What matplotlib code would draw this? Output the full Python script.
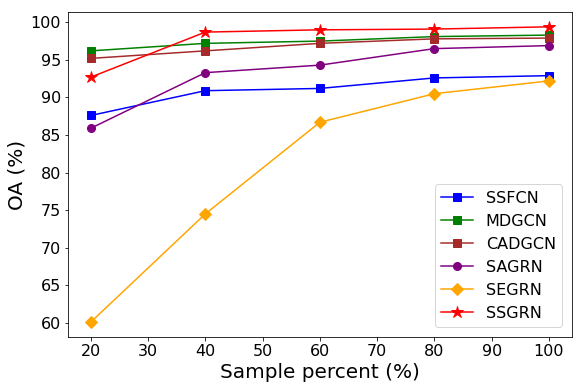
import matplotlib
matplotlib.use("Agg")
import matplotlib.pyplot as plt

x = [20, 40, 60, 80, 100]
ssfcn = [87.6, 90.9, 91.2, 92.6, 92.9]
mdgcn = [96.2, 97.2, 97.5, 98.1, 98.3]
cadgcn = [95.2, 96.2, 97.2, 97.8, 97.9]
sagrn = [85.9, 93.3, 94.3, 96.5, 96.9]
segrn = [60.1, 74.5, 86.7, 90.5, 92.2]
ssgrn = [92.7, 98.7, 99.0, 99.1, 99.4]

series = [
    ("SSFCN", ssfcn, "blue", "s"),
    ("MDGCN", mdgcn, "green", "s"),
    ("CADGCN", cadgcn, "brown", "s"),
    ("SAGRN", sagrn, "purple", "o"),
    ("SEGRN", segrn, "orange", "D"),
    ("SSGRN", ssgrn, "red", "*"),
]

fig, ax = plt.subplots(figsize=(580/72, 389/72), dpi=72)
for name, vals, c, m in series:
    ms = 12 if m == "*" else 8
    ax.plot(x, vals, color=c, marker=m, markersize=ms, linewidth=1.5, label=name)

ax.set_xlabel("Sample percent (%)", fontsize=20)
ax.set_ylabel("OA (%)", fontsize=20)
ax.set_xticks([20, 30, 40, 50, 60, 70, 80, 90, 100])
ax.set_yticks([60, 65, 70, 75, 80, 85, 90, 95, 100])
ax.tick_params(labelsize=16)
ax.legend(loc="lower right", fontsize=16, borderaxespad=0.6)
fig.subplots_adjust(left=0.117, right=0.986, top=0.969, bottom=0.134)
fig.savefig("out.png", dpi=72)
